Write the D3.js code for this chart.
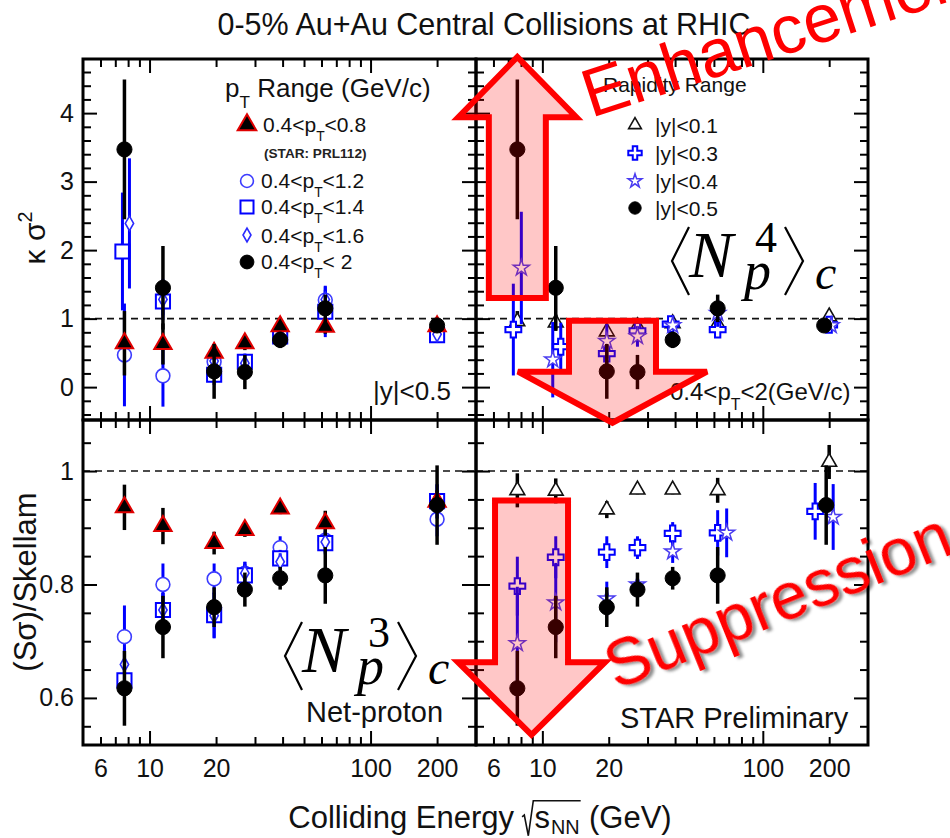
<!DOCTYPE html>
<html>
<head>
<meta charset="utf-8">
<script src="https://cdn.jsdelivr.net/npm/d3@7"></script>
<style>
  body { margin: 0; background: #fff; }
  svg { display: block; }
  text { font-family: "Liberation Sans", Arial, Helvetica, sans-serif; fill: #111; }
</style>
</head>
<body>
<div id="chart"></div>
<script>
// ---------------- data ----------------
const energies = [7.7, 11.5, 19.6, 27, 39, 62.4, 200];   // sqrt(s_NN) in GeV

// kappa*sigma^2, |y|<0.5, by pT window
const kurtPt08    = [0.64, 0.63, 0.50, 0.64, 0.89, 0.88, 0.89];
const kurtPt08Err = [0.47, 0.30, 0.10, 0.10, 0.10, 0.10, 0.05];
const kurtPt12    = [0.47, 0.165, 0.37, 0.35, 0.78, 1.27, 0.76];
const kurtPt12Err = [0.75, 0.45, 0.10, 0.10, 0.08, 0.15, 0.03];
const kurtPt14    = [1.98, 1.25, 0.18, 0.37, 0.74, 1.10, 0.76];
const kurtPt14Err = [0.86, 0.20, 0.15, 0.12, 0.08, 0.37, 0.03];
const kurtPt16    = [2.39, 1.28, 0.38, 0.35, 0.76, 1.28, 0.77];
const kurtPt16Err = [0.95, 0.30, 0.15, 0.12, 0.10, 0.20, 0.04];
const kurtPt20    = [3.47, 1.45, 0.23, 0.22, 0.69, 1.15, 0.90];
const kurtPt20Err = [1.02, 0.61, 0.40, 0.25, 0.12, 0.20, 0.06];

// kappa*sigma^2, 0.4<pT<2, by rapidity window (|y|<0.5 is kurtPt20)
const kurtY01    = [0.96, 0.94, 0.81, 0.885, 0.93, 0.92, 1.03];
const kurtY01Err = [0.15, 0.12, 0.10, 0.08, 0.06, 0.08, 0.04];
const kurtY03    = [0.84, 0.59, 0.49, 0.82, 0.92, 0.84, 0.91];
const kurtY03Err = [0.67, 0.35, 0.25, 0.12, 0.06, 0.10, 0.05];
const kurtY04    = [1.74, 0.40, 0.67, 0.74, 0.90, 1.08, 0.90];
const kurtY04Err = [0.82, 0.55, 0.25, 0.15, 0.06, 0.20, 0.05];

// S*sigma / Skellam, |y|<0.5, by pT window
const skewPt08    = [0.936, 0.903, 0.873, 0.896, 0.934, 0.908, 0.946];
const skewPt08Err = [0.040, 0.032, 0.020, 0.012, 0.010, 0.022, 0.020];
const skewPt12    = [0.708, 0.800, 0.810, 0.820, 0.865, 0.878, 0.915];
const skewPt12Err = [0.055, 0.037, 0.027, 0.020, 0.020, 0.020, 0.030];
const skewPt14    = [0.631, 0.755, 0.746, 0.816, 0.846, 0.873, 0.947];
const skewPt14Err = [0.030, 0.030, 0.040, 0.020, 0.015, 0.020, 0.030];
const skewPt16    = [0.659, 0.755, 0.745, 0.820, 0.840, 0.875, 0.946];
const skewPt16Err = [0.030, 0.030, 0.040, 0.020, 0.015, 0.020, 0.030];
const skewPt20    = [0.617, 0.725, 0.760, 0.791, 0.811, 0.816, 0.940];
const skewPt20Err = [0.066, 0.055, 0.035, 0.030, 0.020, 0.050, 0.070];

// S*sigma / Skellam, 0.4<pT<2, by rapidity window
const skewY01    = [0.966, 0.965, 0.932, 0.967, 0.967, 0.966, 1.016];
const skewY01Err = [0.030, 0.022, 0.015, 0.008, 0.008, 0.022, 0.030];
const skewY03    = [0.797, 0.848, 0.857, 0.865, 0.890, 0.891, 0.929];
const skewY03Err = [0.052, 0.037, 0.028, 0.020, 0.020, 0.040, 0.050];
const skewY04    = [0.696, 0.768, 0.775, 0.800, 0.858, 0.891, 0.919];
const skewY04Err = [0.100, 0.070, 0.030, 0.020, 0.020, 0.043, 0.058];

// axis ticks
const xMajorTicks = [10, 100];
const xMinorTicks = [6, 7, 8, 9, 20, 30, 40, 50, 60, 70, 80, 90, 200];
const xTickLabels = [6, 10, 20, 100, 200];
const kurtMajorTicks = [0, 1, 2, 3, 4];
const skewMajorTicks = [0.6, 0.8, 1.0];

// ---------------- layout ----------------
const W = 950, H = 838;
const colX = [[83, 476], [476, 868]];
const rowY = [[59, 420], [420, 745]];
const xDomain = [5, 300];
const yDomains = [[-0.48, 4.79], [0.517, 1.09]];
const FONT = '"Liberation Sans", Arial, Helvetica, sans-serif';
const SERIF = '"Liberation Serif", "Times New Roman", serif';
const BLUE = "#0000ff";

const svg = d3.select("#chart").append("svg").attr("width", W).attr("height", H);
const defs = svg.append("defs");
const shadow = defs.append("filter").attr("id", "shadow")
  .attr("x", "-10%").attr("y", "-10%").attr("width", "130%").attr("height", "140%");
shadow.append("feDropShadow").attr("dx", 3).attr("dy", 3).attr("stdDeviation", 1.6)
  .attr("flood-color", "#000").attr("flood-opacity", 0.45);

// marker styles
const styles = {
  tri08:  { symbol: d3.symbolTriangle, size: 130, fill: "#000", stroke: "#e00000", sw: 2,   err: "#000", ew: 3.5 },
  circ12: { symbol: d3.symbolCircle,   size: 150, fill: "#fff", stroke: "#3c3cff", sw: 1.6, err: BLUE,   ew: 3 },
  sq14:   { symbol: d3.symbolSquare,   size: 200, fill: "#fff", stroke: BLUE,      sw: 2,   err: BLUE,   ew: 3 },
  dia16:  { symbol: d3.symbolDiamond,  size: 60,  fill: "#fff", stroke: "#2a2aff", sw: 1.6, err: BLUE,   ew: 3 },
  dot20:  { symbol: d3.symbolCircle,   size: 180, fill: "#000", stroke: "#000",    sw: 1,   err: "#000", ew: 3.5 },
  triOp:  { symbol: d3.symbolTriangle, size: 95,  fill: "#fff", stroke: "#111",    sw: 1.6, err: "#000", ew: 3.5 },
  cross:  { symbol: d3.symbolCross,    size: 140, fill: "#fff", stroke: BLUE,      sw: 2,   err: BLUE,   ew: 3 },
  star:   { symbol: d3.symbolStar,     size: 80,  fill: "#fff", stroke: "#4a3cf0", sw: 1.5, err: BLUE,   ew: 3 }
};

// per-panel series, drawn in order (later on top); dx = horizontal pixel nudge per point
const panels = [
  { r: 0, c: 0, series: [
    { v: kurtPt12, e: kurtPt12Err, st: "circ12" },
    { v: kurtPt14, e: kurtPt14Err, st: "sq14", dx: [-2, 0, 0, 0, 0, 0, 0] },
    { v: kurtPt16, e: kurtPt16Err, st: "dia16", dx: [5, 0, 0, 0, 0, 0, 0] },
    { v: kurtPt08, e: kurtPt08Err, st: "tri08" },
    { v: kurtPt20, e: kurtPt20Err, st: "dot20" } ] },
  { r: 0, c: 1, series: [
    { v: kurtY01, e: kurtY01Err, st: "triOp" },
    { v: kurtY03, e: kurtY03Err, st: "cross", dx: [-4, 5, 0, 0, -2, 0, 0] },
    { v: kurtY04, e: kurtY04Err, st: "star",  dx: [4, -3, 0, 0, 0, 0, 2] },
    { v: kurtPt20, e: kurtPt20Err, st: "dot20", dx: [0, 0, 0, 0, 0, 0, -5] } ] },
  { r: 1, c: 0, series: [
    { v: skewPt12, e: skewPt12Err, st: "circ12" },
    { v: skewPt14, e: skewPt14Err, st: "sq14" },
    { v: skewPt16, e: skewPt16Err, st: "dia16" },
    { v: skewPt08, e: skewPt08Err, st: "tri08" },
    { v: skewPt20, e: skewPt20Err, st: "dot20" } ] },
  { r: 1, c: 1, series: [
    { v: skewY01, e: skewY01Err, st: "triOp" },
    { v: skewY03, e: skewY03Err, st: "cross", dx: [0, 0, 0, 0, 0, 0, -14] },
    { v: skewY04, e: skewY04Err, st: "star",  dx: [0, 0, 0, 0, 0, 9, 4] },
    { v: skewPt20, e: skewPt20Err, st: "dot20", dx: [0, 0, 0, 0, 0, 0, -3] } ] }
];

function scalesFor(r, c) {
  const x = d3.scaleLog().domain(xDomain).range(colX[c]);
  const y = d3.scaleLinear().domain(yDomains[r]).range([rowY[r][1], rowY[r][0]]);
  return { x, y };
}

function yMinorTicks(r) {
  if (r === 0) return d3.range(-4, 48, 2).map(d => d / 10).filter(d => Math.abs(d - Math.round(d)) > 1e-6);
  return d3.range(11, 22).map(d => d * 0.05).filter(d => !skewMajorTicks.some(m => Math.abs(m - d) < 1e-6));
}

function drawTicks(g, x, y, r, c) {
  const [x0, x1] = colX[c], [y0, y1] = rowY[r];
  const add = (axis, tx, ty) => {
    const a = g.append("g").attr("transform", `translate(${tx},${ty})`).call(axis);
    a.select(".domain").remove();
    a.selectAll("line").attr("stroke", "#000").attr("stroke-width", 2);
    a.selectAll("text").remove();
  };
  [[xMajorTicks, 14], [xMinorTicks, 8]].forEach(([vals, len]) => {
    add(d3.axisBottom(x).tickValues(vals).tickSize(-len).tickFormat(""), 0, y1);
    add(d3.axisTop(x).tickValues(vals).tickSize(-len).tickFormat(""), 0, y0);
  });
  const yMaj = r === 0 ? kurtMajorTicks : skewMajorTicks;
  [[yMaj, 14], [yMinorTicks(r), 8]].forEach(([vals, len]) => {
    add(d3.axisLeft(y).tickValues(vals).tickSize(-len).tickFormat(""), x0, 0);
    add(d3.axisRight(y).tickValues(vals).tickSize(-len).tickFormat(""), x1, 0);
  });
}

function drawSeries(g, x, y, s) {
  const st = styles[s.st];
  const pts = energies.map((en, i) => ({
    px: x(en) + (s.dx ? s.dx[i] : 0), v: s.v[i], err: s.e[i]
  }));
  g.append("g").selectAll("line").data(pts).join("line")
    .attr("x1", d => d.px).attr("x2", d => d.px)
    .attr("y1", d => y(d.v - d.err)).attr("y2", d => y(d.v + d.err))
    .attr("stroke", st.err).attr("stroke-width", st.ew);
  g.append("g").selectAll("path").data(pts).join("path")
    .attr("transform", d => `translate(${d.px},${y(d.v)})`)
    .attr("d", d3.symbol(st.symbol, st.size))
    .attr("fill", st.fill).attr("stroke", st.stroke).attr("stroke-width", st.sw)
    .attr("stroke-linejoin", "miter");
}

// text with sub/superscript parts
function rich(parent, x, y, size, parts, extra) {
  const t = parent.append("text").attr("x", x).attr("y", y)
    .style("font-size", size + "px");
  let shift = 0;
  parts.forEach(p => {
    const s = typeof p === "string" ? { t: p } : p;
    let target = 0, fs = size;
    if (s.sub) { target = 0.42 * size; fs = 0.66 * size; }
    if (s.sup) { target = -0.42 * size; fs = 0.66 * size; }
    t.append("tspan").attr("dy", target - shift).style("font-size", fs + "px").text(s.t);
    shift = target;
  });
  if (extra) extra(t);
  return t;
}

const scales = {};
panels.forEach((p, i) => {
  const { x, y } = scalesFor(p.r, p.c);
  scales[`${p.r}${p.c}`] = { x, y };
  const [x0, x1] = colX[p.c], [y0, y1] = rowY[p.r];
  const clipId = "clip" + i;
  defs.append("clipPath").attr("id", clipId).append("rect")
    .attr("x", x0).attr("y", y0).attr("width", x1 - x0).attr("height", y1 - y0);
  const g = svg.append("g");
  // reference line at unity
  g.append("line").attr("x1", x0).attr("x2", x1).attr("y1", y(1)).attr("y2", y(1))
    .attr("stroke", "#111").attr("stroke-width", 1.6).attr("stroke-dasharray", "7,5");
  const dg = g.append("g").attr("clip-path", `url(#${clipId})`);
  p.series.forEach(s => drawSeries(dg, x, y, s));
  drawTicks(g, x, y, p.r, p.c);
  g.append("rect").attr("x", x0).attr("y", y0).attr("width", x1 - x0).attr("height", y1 - y0)
    .attr("fill", "none").attr("stroke", "#000").attr("stroke-width", 3);

  // tick labels
  if (p.r === 1) {
    const a = svg.append("g").attr("transform", `translate(0,${y1})`)
      .call(d3.axisBottom(x).tickValues(xTickLabels).tickSize(0).tickPadding(14).tickFormat(d3.format("d")));
    a.select(".domain").remove();
    a.attr("font-size", 25).attr("font-family", FONT);
  }
  if (p.c === 0) {
    const fmt = p.r === 0 ? d3.format("d") : (d => Math.abs(d - 1) < 1e-9 ? "1" : d3.format(".1f")(d));
    const a = svg.append("g").attr("transform", `translate(${x0},0)`)
      .call(d3.axisLeft(y).tickValues(p.r === 0 ? kurtMajorTicks : skewMajorTicks)
        .tickSize(0).tickPadding(9).tickFormat(fmt));
    a.select(".domain").remove();
    a.attr("font-size", 25).attr("font-family", FONT);
  }
});

// ---------------- titles ----------------
svg.append("text").attr("x", 484).attr("y", 35).attr("text-anchor", "middle")
  .style("font-size", "30.5px").text("0-5% Au+Au Central Collisions at RHIC");

rich(svg, 0, 0, 30, ["κ σ", { t: "2", sup: true }],
  t => t.attr("transform", "translate(45,238) rotate(-90)").attr("text-anchor", "middle"));
svg.append("text").attr("transform", "translate(36,582) rotate(-90)").attr("text-anchor", "middle")
  .style("font-size", "31px").text("(Sσ)/Skellam");

// x axis title with radical sign
(function () {
  const F = 31, base = 828;
  const g = svg.append("g");
  let cx = 0;
  const t1 = g.append("text").attr("x", cx).attr("y", base).style("font-size", F + "px").text("Colliding Energy");
  cx += t1.node().getComputedTextLength() + 0.26 * F;
  const radX = cx;
  cx += 0.4 * F;
  const t2 = g.append("text").attr("x", cx).attr("y", base).style("font-size", F + "px").text("s");
  cx += t2.node().getComputedTextLength() + 1;
  const t3 = g.append("text").attr("x", cx).attr("y", base + 0.2 * F).style("font-size", (0.64 * F) + "px").text("NN");
  cx += t3.node().getComputedTextLength();
  const barEnd = cx + 1;
  cx += 0.3 * F;
  const t4 = g.append("text").attr("x", cx).attr("y", base).style("font-size", F + "px").text("(GeV)");
  cx += t4.node().getComputedTextLength();
  g.append("path")
    .attr("d", `M${radX},${base - 0.36 * F} L${radX + 0.07 * F},${base - 0.42 * F} L${radX + 0.2 * F},${base + 0.25 * F} L${radX + 0.36 * F},${base - 0.88 * F} L${barEnd},${base - 0.88 * F}`)
    .attr("fill", "none").attr("stroke", "#111").attr("stroke-width", 1.6);
  g.attr("transform", `translate(${480 - cx / 2},0)`);
})();

// ---------------- legends ----------------
function legendMarker(x, y, key, size) {
  const st = styles[key];
  svg.append("path").attr("transform", `translate(${x},${y})`)
    .attr("d", d3.symbol(st.symbol, size))
    .attr("fill", st.fill).attr("stroke", st.stroke).attr("stroke-width", st.sw);
}

rich(svg, 225, 97, 26, ["p", { t: "T", sub: true }, " Range (GeV/c)"]);
const ptLegend = [
  { key: "tri08",  y: 125, base: 132, x: 263, hi: "0.8", size: 150 },
  { key: "circ12", y: 181, base: 188, x: 261, hi: "1.2", size: 130 },
  { key: "sq14",   y: 207, base: 214, x: 261, hi: "1.4", size: 170 },
  { key: "dia16",  y: 235, base: 243, x: 261, hi: "1.6", size: 55 },
  { key: "dot20",  y: 262, base: 269, x: 261, hi: " 2",  size: 150 }
];
ptLegend.forEach(d => {
  legendMarker(247, d.y, d.key, d.size);
  rich(svg, d.x, d.base, 21, ["0.4<p", { t: "T", sub: true }, "<" + d.hi]);
});
svg.append("text").attr("x", 264).attr("y", 158).style("font-size", "13.6px")
  .style("font-weight", "bold").style("fill", "#222").text("(STAR: PRL112)");

svg.append("text").attr("x", 603).attr("y", 92).style("font-size", "21px").text("Rapidity Range");
const yLegend = [
  { key: "triOp", y: 125, base: 133, lab: "|y|<0.1", size: 70 },
  { key: "cross", y: 153, base: 161, lab: "|y|<0.3", size: 100 },
  { key: "star",  y: 181, base: 189, lab: "|y|<0.4", size: 60 },
  { key: "dot20", y: 208, base: 216, lab: "|y|<0.5", size: 120 }
];
yLegend.forEach(d => {
  legendMarker(635, d.y, d.key, d.size);
  svg.append("text").attr("x", 655).attr("y", d.base).style("font-size", "21px").text(d.lab);
});

// panel notes
svg.append("text").attr("x", 373).attr("y", 400).style("font-size", "26px").text("|y|<0.5");
rich(svg, 670, 400, 24, ["0.4<p", { t: "T", sub: true }, "<2(GeV/c)"]);
svg.append("text").attr("x", 306).attr("y", 722).style("font-size", "29px").text("Net-proton");
svg.append("text").attr("x", 620).attr("y", 728).style("font-size", "29px").text("STAR Preliminary");

// cumulant symbols <N_p^n>_c
function cumulant(dx, dy, order) {
  const g = svg.append("g").attr("transform", `translate(${dx},${dy})`);
  const br = (pts) => g.append("polyline").attr("points", pts)
    .attr("fill", "none").attr("stroke", "#000").attr("stroke-width", 2.2);
  br("302,622 285,656 302,690");
  br("398,622 416,656 398,690");
  const t = g.append("text").attr("x", 302).attr("y", 672)
    .style("font-family", SERIF).style("fill", "#000");
  t.append("tspan").style("font-style", "italic").style("font-size", "66px").text("N");
  t.append("tspan").attr("dx", 22).attr("dy", -25).style("font-size", "44px").text(order);
  t.append("tspan").attr("dx", -33).attr("dy", 37).style("font-style", "italic")
    .style("font-size", "54px").text("p");
  t.append("tspan").attr("dx", 44).attr("dy", 0).style("font-style", "italic")
    .style("font-size", "48px").text("c");
}
cumulant(0, 0, "3");
cumulant(387, -395, "4");

// ---------------- annotation arrows (in panel data units) ----------------
const arrows = [
  { panel: "01", energy: 7.7,  from: 1.30,  neck: 3.94,  tip: 4.82,  shaftHalf: 28.5, headHalf: 59 },
  { panel: "01", energy: 20.8, from: 0.97,  neck: 0.225, tip: -0.52, shaftHalf: 43.5, headHalf: 94.5 },
  { panel: "11", energy: 8.93, from: 0.948, neck: 0.663, tip: 0.535, shaftHalf: 36.5, headHalf: 73.5 }
];
arrows.forEach(a => {
  const { x, y } = scales[a.panel];
  const cx = x(a.energy), y0 = y(a.from), y1 = y(a.neck), y2 = y(a.tip);
  const pts = [
    [cx - a.shaftHalf, y0], [cx + a.shaftHalf, y0], [cx + a.shaftHalf, y1],
    [cx + a.headHalf, y1], [cx, y2], [cx - a.headHalf, y1], [cx - a.shaftHalf, y1]
  ];
  svg.append("polygon").attr("points", pts.map(p => p.join(",")).join(" "))
    .attr("fill", "rgba(255,0,0,0.22)").attr("stroke", "#ff0000").attr("stroke-width", 6)
    .attr("stroke-linejoin", "miter");
});

svg.append("text").attr("transform", "translate(591,118) rotate(-18)")
  .style("font-size", "68px").style("fill", "#ff0000").text("Enhancement");
svg.append("text").attr("transform", "translate(616,690) rotate(-22)")
  .style("font-size", "66px").style("fill", "#ff0000").attr("filter", "url(#shadow)").text("Suppression");
</script>
</body>
</html>
